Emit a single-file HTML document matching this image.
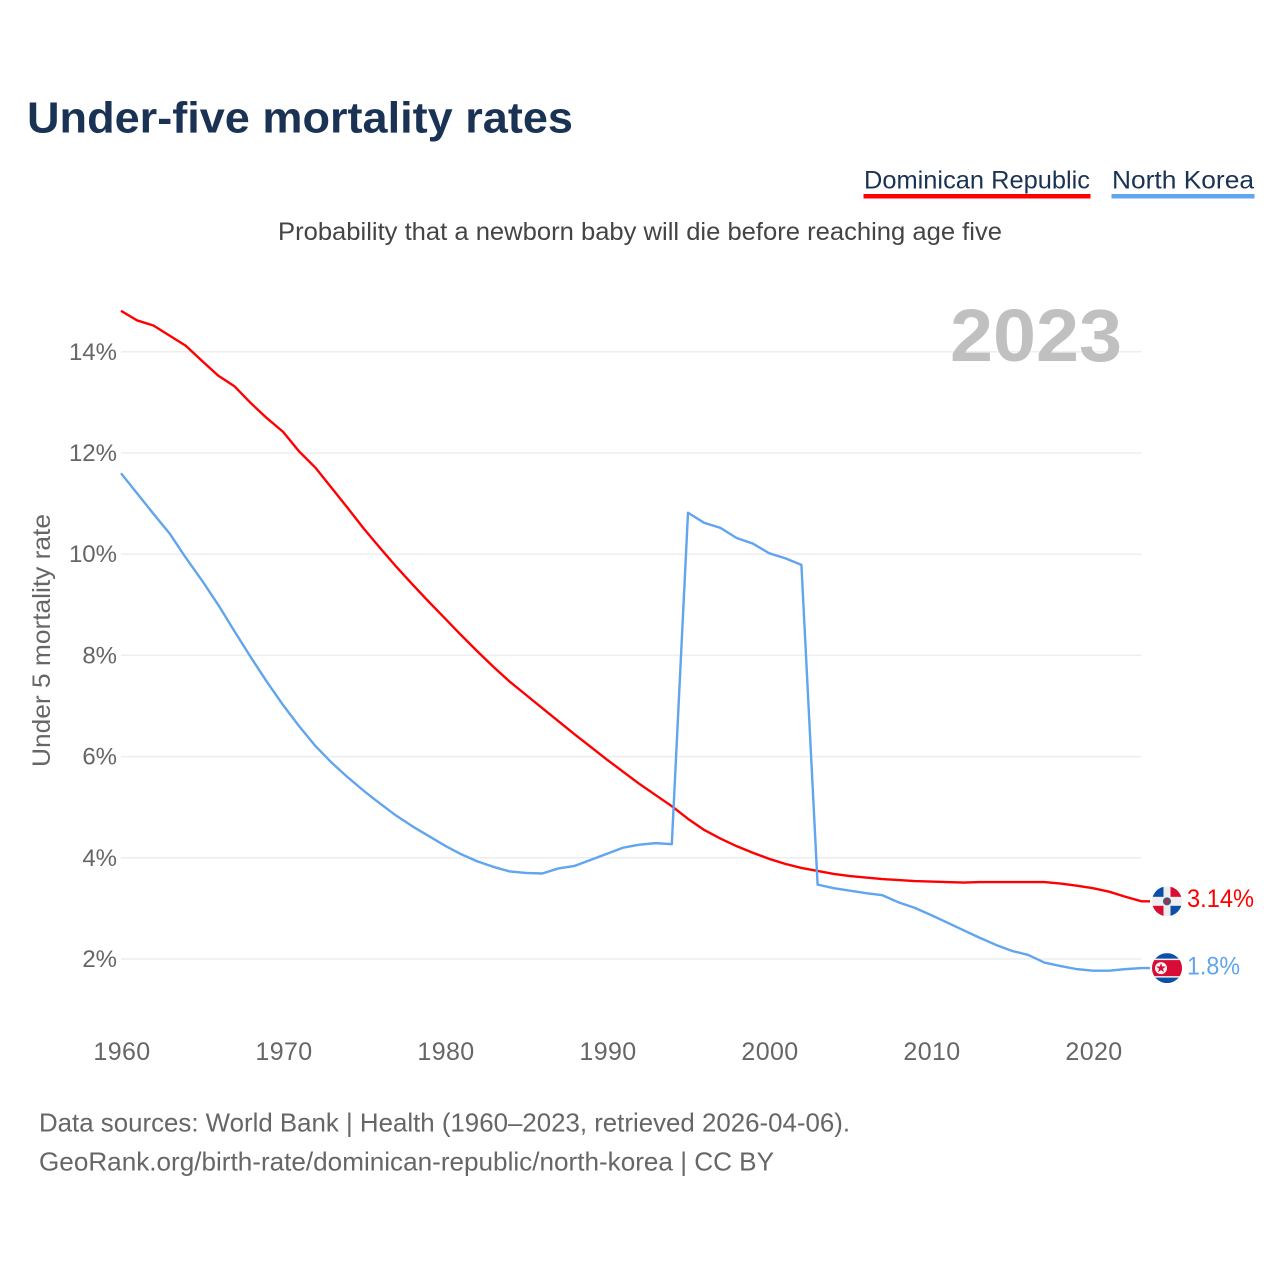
<!DOCTYPE html>
<html lang="en">
<head>
<meta charset="utf-8">
<title>Under-five mortality rates</title>
<style>
html,body{margin:0;padding:0;background:#fff}
svg{display:block}
text{font-family:"Liberation Sans",sans-serif}
</style>
</head>
<body>
<svg id="chart" xmlns="http://www.w3.org/2000/svg" width="1280" height="1280" viewBox="0 0 1280 1280">
  <rect width="1280" height="1280" fill="#fff"/>
  <text x="27" y="132.5" font-size="44" font-weight="700" fill="#1a3355" textLength="546" lengthAdjust="spacingAndGlyphs">Under-five mortality rates</text>

  <g>
    <text x="864" y="188.5" font-size="25" fill="#1a3355" textLength="226" lengthAdjust="spacingAndGlyphs">Dominican Republic</text>
    <rect x="863.5" y="194" width="227" height="4.5" fill="#ff0000"/>
  </g>
  <g>
    <text x="1112" y="188.5" font-size="25" fill="#1a3355" textLength="142" lengthAdjust="spacingAndGlyphs">North Korea</text>
    <rect x="1111.5" y="194" width="143" height="4.5" fill="#60a5ee"/>
  </g>

  <text x="278" y="240" font-size="25" fill="#444" textLength="724" lengthAdjust="spacingAndGlyphs">Probability that a newborn baby will die before reaching age five</text>

  <g id="grid"></g>
  <g id="y-ticks"></g>
  <g id="x-ticks"></g>

  <text x="950" y="361" font-size="74" font-weight="700" fill="#c0c0c0" textLength="172" lengthAdjust="spacingAndGlyphs">2023</text>
  <text transform="translate(50,767) rotate(-90)" font-size="25" fill="#666" textLength="253" lengthAdjust="spacingAndGlyphs">Under 5 mortality rate</text>

  <g id="series"></g>

  <defs>
    <clipPath id="flag-clip"><circle cx="0" cy="0" r="15"/></clipPath>
  </defs>
  <g id="flag-do">
    <g clip-path="url(#flag-clip)">
      <rect x="-15" y="-15" width="30" height="30" fill="#eeeeee"/>
      <rect x="-15" y="-15" width="11.5" height="10.5" fill="#0a50a8"/>
      <rect x="3.5" y="-15" width="11.5" height="10.5" fill="#d80c35"/>
      <rect x="-15" y="4.5" width="11.5" height="10.5" fill="#d80c35"/>
      <rect x="3.5" y="4.5" width="11.5" height="10.5" fill="#0a50a8"/>
      <circle r="4" fill="#3a5a80"/>
      <circle r="2" fill="#c8203c"/>
    </g>
  </g>
  <g id="flag-kp">
    <g clip-path="url(#flag-clip)">
      <rect x="-15" y="-15" width="30" height="30" fill="#0a50a8"/>
      <rect x="-15" y="-9.5" width="30" height="19" fill="#eeeeee"/>
      <rect x="-15" y="-8" width="30" height="16" fill="#d80c35"/>
      <circle cx="-6" r="6" fill="#f4f4f4"/>
      <polygon points="-6,-5 -4.8,-1.6 -1.2,-1.6 -4,0.6 -3,4 -6,2 -9,4 -8,0.6 -10.8,-1.6 -7.2,-1.6" fill="#d80c35"/>
    </g>
  </g>
  <text id="value-do" x="1187" font-size="25" fill="#ff0000" textLength="67" lengthAdjust="spacingAndGlyphs"></text>
  <text id="value-kp" x="1187" font-size="25" fill="#60a5ee" textLength="53" lengthAdjust="spacingAndGlyphs"></text>

  <text x="39" y="1131.5" font-size="26" fill="#666" textLength="811" lengthAdjust="spacingAndGlyphs">Data sources: World Bank | Health (1960–2023, retrieved 2026-04-06).</text>
  <text x="39" y="1170.5" font-size="26" fill="#666" textLength="735" lengthAdjust="spacingAndGlyphs">GeoRank.org/birth-rate/dominican-republic/north-korea | CC BY</text>
</svg>
<script>
const years = [1960,1961,1962,1963,1964,1965,1966,1967,1968,1969,1970,1971,1972,1973,1974,1975,1976,1977,1978,1979,1980,1981,1982,1983,1984,1985,1986,1987,1988,1989,1990,1991,1992,1993,1994,1995,1996,1997,1998,1999,2000,2001,2002,2003,2004,2005,2006,2007,2008,2009,2010,2011,2012,2013,2014,2015,2016,2017,2018,2019,2020,2021,2022,2023];
const dominicanRepublic = [14.81,14.62,14.52,14.32,14.12,13.82,13.53,13.32,12.99,12.69,12.42,12.03,11.71,11.31,10.91,10.5,10.12,9.75,9.4,9.06,8.73,8.4,8.08,7.77,7.48,7.22,6.96,6.7,6.44,6.19,5.94,5.7,5.46,5.24,5.02,4.77,4.55,4.38,4.23,4.1,3.98,3.88,3.8,3.74,3.68,3.64,3.61,3.58,3.56,3.54,3.53,3.52,3.51,3.52,3.52,3.52,3.52,3.52,3.49,3.45,3.4,3.33,3.23,3.14];
const northKorea = [11.6,11.2,10.8,10.41,9.93,9.48,9,8.48,7.97,7.48,7.02,6.6,6.21,5.88,5.59,5.32,5.07,4.83,4.62,4.43,4.24,4.07,3.93,3.82,3.73,3.7,3.69,3.79,3.84,3.96,4.08,4.2,4.26,4.29,4.27,10.82,10.62,10.52,10.32,10.21,10.02,9.92,9.79,3.47,3.4,3.35,3.3,3.26,3.12,3.01,2.87,2.72,2.57,2.42,2.28,2.16,2.08,1.93,1.86,1.8,1.77,1.77,1.8,1.82];
const yTickValues = [2,4,6,8,10,12,14];
const xTickValues = [1960,1970,1980,1990,2000,2010,2020];
const printedValues = ['3.14%','1.8%'];

const SVG_NS = 'http://www.w3.org/2000/svg';
function xScale(year){ return 121 + (year - 1960) * 16.2; }
function yScale(value){ return 959 - (value - 2) * 50.6; }
const LEADER_X = 1150;

const grid = document.getElementById('grid');
const yTicks = document.getElementById('y-ticks');
yTickValues.forEach(function(v){
  const line = document.createElementNS(SVG_NS,'line');
  
  
  line.setAttribute('x1', xScale(1960));
  line.setAttribute('x2', xScale(2023));
  line.setAttribute('y1', yScale(v));
  line.setAttribute('y2', yScale(v));
  line.setAttribute('stroke', '#eeeeee');
  line.setAttribute('stroke-width', '1.5');
  grid.appendChild(line);
  const label = document.createElementNS(SVG_NS,'text');
  
  
  label.setAttribute('x', 117);
  label.setAttribute('y', yScale(v) + 8);
  label.setAttribute('text-anchor', 'end');
  label.setAttribute('font-size', '24');
  label.setAttribute('fill', '#666');
  label.textContent = v + '%';
  yTicks.appendChild(label);
});

const xTicks = document.getElementById('x-ticks');
xTickValues.forEach(function(y){
  const label = document.createElementNS(SVG_NS,'text');
  
  
  label.setAttribute('x', xScale(y) + 1);
  label.setAttribute('y', 1060);
  label.setAttribute('text-anchor', 'middle');
  label.setAttribute('font-size', '25');
  label.setAttribute('letter-spacing', '0.4');
  label.setAttribute('fill', '#666');
  label.textContent = y;
  xTicks.appendChild(label);
});

function pathFor(values){
  const pts = values.map(function(v,i){ return xScale(years[i]).toFixed(2) + ',' + yScale(v).toFixed(2); });
  pts.push(LEADER_X + ',' + yScale(values[values.length-1]).toFixed(2));
  return 'M' + pts.join('L');
}
const series = document.getElementById('series');
const redLine = document.createElementNS(SVG_NS,'path');


redLine.setAttribute('d', pathFor(dominicanRepublic));
redLine.setAttribute('fill', 'none');
redLine.setAttribute('stroke', '#ff0000');
redLine.setAttribute('stroke-width', '2.4');
redLine.setAttribute('stroke-linejoin', 'round');
series.appendChild(redLine);
const blueLine = document.createElementNS(SVG_NS,'path');


blueLine.setAttribute('d', pathFor(northKorea));
blueLine.setAttribute('fill', 'none');
blueLine.setAttribute('stroke', '#60a5ee');
blueLine.setAttribute('stroke-width', '2.4');
blueLine.setAttribute('stroke-linejoin', 'round');
series.appendChild(blueLine);

const doY = yScale(dominicanRepublic[dominicanRepublic.length-1]);
const kpY = yScale(northKorea[northKorea.length-1]);
document.getElementById('flag-do').setAttribute('transform', 'translate(1167,' + doY + ')');
document.getElementById('flag-kp').setAttribute('transform', 'translate(1167,' + kpY + ')');
const valueDo = document.getElementById('value-do');
valueDo.setAttribute('y', doY + 5.5);
valueDo.textContent = printedValues[0];
const valueKp = document.getElementById('value-kp');
valueKp.setAttribute('y', kpY + 6.5);
valueKp.textContent = printedValues[1];
</script>
</body>
</html>
